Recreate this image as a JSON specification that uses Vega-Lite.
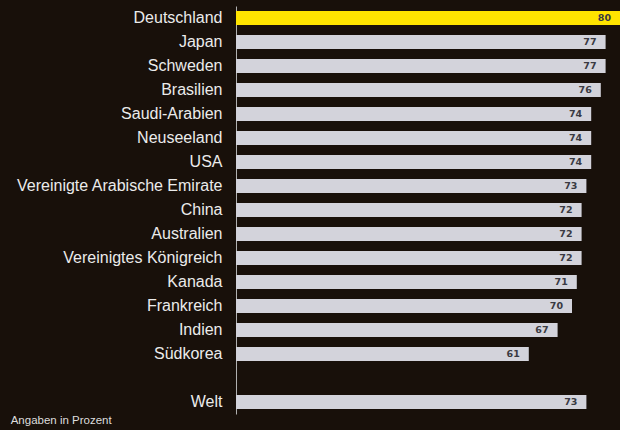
{
  "$schema": "https://vega.github.io/schema/vega-lite/v6.json",
  "autosize": {"type": "none"},
  "width": 384,
  "height": 408,
  "padding": {"left": 236, "top": 6, "right": 0, "bottom": 16},
  "background": "#18100a",
  "title": {
    "text": "Angaben in Prozent",
    "orient": "bottom",
    "anchor": "start",
    "frame": "bounds",
    "font": "Liberation Sans",
    "fontSize": 11.5,
    "fontWeight": "normal",
    "color": "#dddddd",
    "offset": 1,
    "dx": -5
  },
  "config": {"view": {"stroke": null}},
  "data": {
    "values": [
      {"land": "Deutschland", "wert": 80, "hervor": "ja"},
      {"land": "Japan", "wert": 77, "hervor": "nein"},
      {"land": "Schweden", "wert": 77, "hervor": "nein"},
      {"land": "Brasilien", "wert": 76, "hervor": "nein"},
      {"land": "Saudi-Arabien", "wert": 74, "hervor": "nein"},
      {"land": "Neuseeland", "wert": 74, "hervor": "nein"},
      {"land": "USA", "wert": 74, "hervor": "nein"},
      {"land": "Vereinigte Arabische Emirate", "wert": 73, "hervor": "nein"},
      {"land": "China", "wert": 72, "hervor": "nein"},
      {"land": "Australien", "wert": 72, "hervor": "nein"},
      {"land": "Vereinigtes Königreich", "wert": 72, "hervor": "nein"},
      {"land": "Kanada", "wert": 71, "hervor": "nein"},
      {"land": "Frankreich", "wert": 70, "hervor": "nein"},
      {"land": "Indien", "wert": 67, "hervor": "nein"},
      {"land": "Südkorea", "wert": 61, "hervor": "nein"},
      {"land": "Welt", "wert": 73, "hervor": "nein"}
    ]
  },
  "encoding": {
    "y": {
      "field": "land",
      "type": "nominal",
      "sort": null,
      "scale": {
        "domain": ["Deutschland", "Japan", "Schweden", "Brasilien", "Saudi-Arabien", "Neuseeland", "USA", "Vereinigte Arabische Emirate", "China", "Australien", "Vereinigtes Königreich", "Kanada", "Frankreich", "Indien", "Südkorea", " ", "Welt"],
        "paddingInner": 0.42,
        "paddingOuter": 0.21
      },
      "axis": {
        "title": null,
        "ticks": false,
        "domain": true,
        "domainColor": "#b0b0b0",
        "domainWidth": 1,
        "labelFont": "Arial",
        "labelFontSize": 16,
        "labelColor": "#ebebeb",
        "labelPadding": 14,
        "labelLimit": 300
      }
    },
    "x": {
      "field": "wert",
      "type": "quantitative",
      "scale": {"domain": [0, 80], "nice": false},
      "axis": null
    }
  },
  "layer": [
    {
      "mark": {"type": "bar", "clip": false},
      "encoding": {
        "color": {
          "field": "hervor",
          "type": "nominal",
          "scale": {"domain": ["ja", "nein"], "range": ["#ffe400", "#d3d3db"]},
          "legend": null
        }
      }
    },
    {
      "mark": {
        "type": "text",
        "align": "right",
        "baseline": "middle",
        "dx": -9,
        "font": "DejaVu Sans",
        "fontWeight": "bold",
        "fontSize": 9.5,
        "color": "#3a3a42"
      },
      "encoding": {"text": {"field": "wert", "type": "quantitative"}}
    }
  ]
}
